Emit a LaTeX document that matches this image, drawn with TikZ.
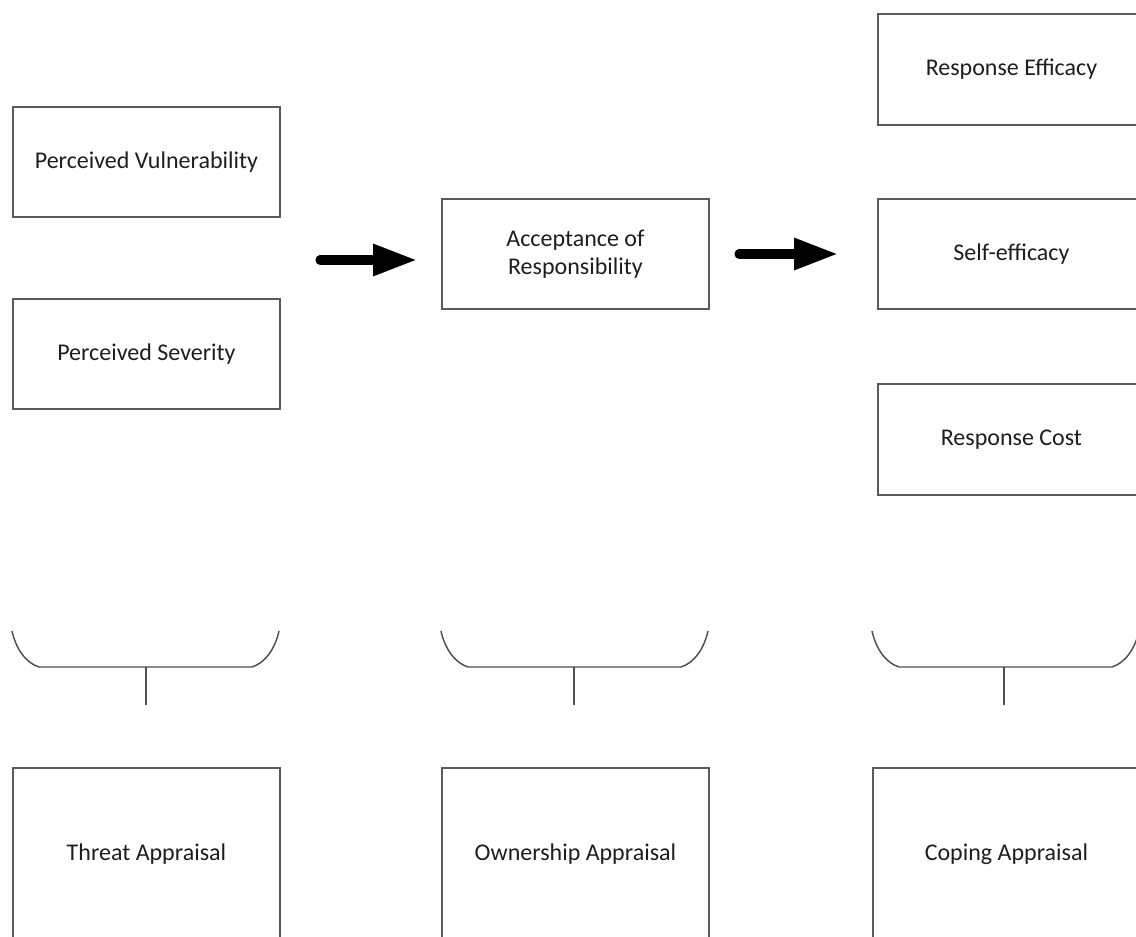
\documentclass[tikz,border=0pt]{standalone}
\usepackage{fontspec}
\setmainfont{Carlito}
\usetikzlibrary{arrows.meta}
\definecolor{boxline}{HTML}{5A5A5A}
\definecolor{txt}{HTML}{1E1E1E}
\definecolor{brace}{HTML}{505050}
\begin{document}
\begin{tikzpicture}[x=0.75pt,y=-0.75pt,
  box/.style={draw=boxline,line width=1.4pt,fill=white,anchor=north west,inner sep=0pt,
    minimum width=200.25pt,minimum height=82.5pt,align=center,text=txt,
    font=\fontsize{18pt}{21pt}\selectfont},
  tallbox/.style={box,minimum height=129pt},
  bigarrow/.style={line width=6.8pt,line cap=round,-{Triangle[length=33pt,width=22.5pt]}},
  bracket/.style={draw=brace,line width=1.1pt}]
\useasboundingbox (0,0) rectangle (1136,937);
\clip (0,0) rectangle (1136,937);
\fill[white] (0,0) rectangle (1136,937);
% top boxes
\node[box] (pv) at (12,106) {Perceived Vulnerability};
\node[box] (ps) at (12,298) {Perceived Severity};
\node[box] (ar) at (441,198) {Acceptance of\\Responsibility};
\node[box,minimum height=83.25pt] (re) at (877,13) {Response Efficacy};
\node[box] (se) at (877,198) {Self-efficacy};
\node[box,minimum height=83.25pt] (rc) at (877,383) {Response Cost};
% bottom boxes
\node[tallbox] (ta) at (12,767) {Threat Appraisal};
\node[tallbox] (oa) at (441,767) {Ownership Appraisal};
\node[tallbox] (ca) at (872,767) {Coping Appraisal};
% arrows
\coordinate (a1s) at (320,260);
\coordinate (a1e) at (417,260);
\coordinate (a2s) at (739,254);
\coordinate (a2e) at (838,254);
\draw[bigarrow] (a1s) -- (a1e);
\draw[bigarrow] (a2s) -- (a2e);
% brackets
\foreach \l/\m/\n in {12/146/b1,441/574/b2,872/1004/b3}{
  \coordinate (\n top) at (\m,667);
  \coordinate (\n stem) at (\m,705);
  \draw[bracket] (\l,631) .. controls (\l+4,649) and (\l+14,663) .. (\l+27,667)
     -- (\l+240,667) .. controls (\l+253,663) and (\l+263,649) .. (\l+267,631);
  \draw[bracket] (\n top) -- (\n stem);
}
\end{tikzpicture}
\end{document}
